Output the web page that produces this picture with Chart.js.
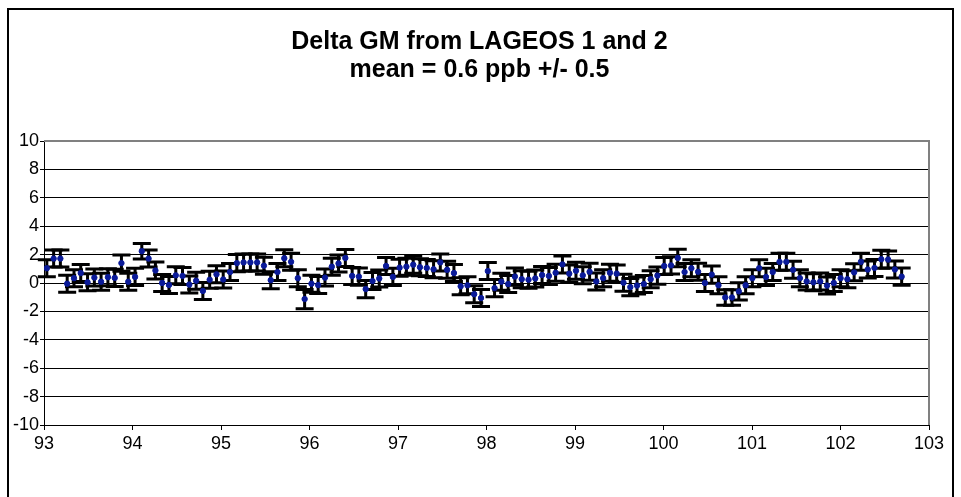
<!DOCTYPE html>
<html>
<head>
<meta charset="utf-8">
<script src="https://cdn.jsdelivr.net/npm/chart.js@4.4.1/dist/chart.umd.min.js"></script>
<style>
  html, body { margin: 0; padding: 0; background: #fff; }
  #wrap { width: 961px; height: 497px; }
</style>
</head>
<body>
<div id="wrap"><canvas id="c" width="961" height="497"></canvas></div>
<script>
// ---- data (decimal years, 28-day arcs) ----
const years = [
  93.032, 93.109, 93.185, 93.262, 93.339, 93.415, 93.492, 93.569, 93.645, 93.722,
  93.799, 93.875, 93.952, 94.029, 94.105, 94.182, 94.259, 94.335, 94.412, 94.489,
  94.565, 94.642, 94.719, 94.795, 94.872, 94.949, 95.025, 95.102, 95.179, 95.255,
  95.332, 95.408, 95.485, 95.562, 95.638, 95.715, 95.792, 95.868, 95.945, 96.022,
  96.098, 96.175, 96.252, 96.328, 96.405, 96.482, 96.558, 96.635, 96.712, 96.788,
  96.865, 96.942, 97.018, 97.095, 97.172, 97.248, 97.325, 97.402, 97.478, 97.555,
  97.632, 97.708, 97.785, 97.861, 97.938, 98.015, 98.091, 98.168, 98.245, 98.321,
  98.398, 98.475, 98.551, 98.628, 98.705, 98.781, 98.858, 98.935, 99.011, 99.088,
  99.165, 99.241, 99.318, 99.395, 99.471, 99.548, 99.625, 99.701, 99.778, 99.855,
  99.931, 100.008, 100.085, 100.161, 100.238, 100.315, 100.391, 100.468, 100.545, 100.621,
  100.698, 100.774, 100.851, 100.928, 101.004, 101.081, 101.158, 101.234, 101.311, 101.388,
  101.464, 101.541, 101.618, 101.694, 101.771, 101.848, 101.924, 102.001, 102.078, 102.154,
  102.231, 102.308, 102.384, 102.461, 102.538, 102.614, 102.691
];
const deltaGM = [
  1.04, 1.72, 1.72, -0.05, 0.34, 0.70, 0.05, 0.38, 0.09, 0.41,
  0.36, 1.40, 0.09, 0.43, 2.24, 1.72, 0.88,
  0.00, -0.14, 0.54, 0.50, -0.11, 0.16, -0.56, 0.23, 0.61, 0.25,
  0.77, 1.40, 1.45, 1.45, 1.45, 1.22, 0.20, 0.77, 1.74, 1.49, 0.34, -1.13,
  -0.05, -0.14, 0.38, 1.15, 1.38, 1.76, 0.50, 0.45, -0.43, 0.14,
  0.32, 1.20, 0.43, 1.08, 1.15, 1.29, 1.11, 1.06, 0.97, 1.45, 0.93, 0.70, -0.23,
  -0.16, -0.79, -1.06, 0.84, -0.36, 0.09, -0.07, 0.45, 0.27, 0.23,
  0.32, 0.56, 0.50, 0.72, 1.31, 0.66, 0.86, 0.54, 0.79, 0.11, 0.34, 0.72,
  0.66, 0.02, -0.29, -0.18, -0.07, 0.27, 0.52, 1.20, 1.24, 1.76,
  0.77, 1.04, 0.79, 0.00, 0.59, -0.16, -1.02, -1.02, -0.59, -0.16, 0.34, 1.04,
  0.43, 0.77, 1.49, 1.49, 0.93, 0.34, 0.11, 0.05, 0.11, -0.18,
  0.00, 0.34, 0.27, 0.75, 1.49, 0.95, 1.06, 1.67, 1.65, 0.95, 0.45
];
const errors = [
  0.60, 0.60, 0.60, 0.60, 0.60, 0.60, 0.60, 0.60, 0.60, 0.60,
  0.60, 0.58, 0.60, 0.60, 0.55, 0.60, 0.60,
  0.60, 0.60, 0.60, 0.60, 0.60, 0.60, 0.60, 0.60, 0.60, 0.60,
  0.60, 0.60, 0.60, 0.60, 0.60, 0.60, 0.60, 0.60, 0.60, 0.60, 0.60, 0.68,
  0.60, 0.60, 0.60, 0.60, 0.60, 0.60, 0.60, 0.60, 0.60, 0.60,
  0.60, 0.60, 0.60, 0.60, 0.60, 0.60, 0.60, 0.60, 0.60, 0.60, 0.60, 0.60, 0.60,
  0.60, 0.60, 0.60, 0.60, 0.60, 0.60, 0.60, 0.60, 0.60, 0.60,
  0.60, 0.60, 0.60, 0.60, 0.60, 0.60, 0.60, 0.60, 0.60, 0.60, 0.60, 0.60,
  0.60, 0.60, 0.60, 0.60, 0.60, 0.60, 0.60, 0.60, 0.60, 0.61,
  0.60, 0.60, 0.60, 0.60, 0.60, 0.60, 0.55, 0.55, 0.60, 0.60, 0.60, 0.60,
  0.60, 0.60, 0.60, 0.60, 0.60, 0.60, 0.60, 0.60, 0.60, 0.60,
  0.60, 0.60, 0.60, 0.60, 0.60, 0.60, 0.60, 0.63, 0.60, 0.60, 0.61
];
const titleLines = ['Delta GM from LAGEOS 1 and 2', 'mean = 0.6 ppb +/- 0.5'];
const xTickValues = [93, 94, 95, 96, 97, 98, 99, 100, 101, 102, 103];
const yTickValues = [-10, -8, -6, -4, -2, 0, 2, 4, 6, 8, 10];

const FONT = '"Liberation Sans", Arial, sans-serif';

const errorBarPlugin = {
  id: 'errorBars',
  beforeDatasetsDraw(chart) {
    const { ctx, scales: { x, y } } = chart;
    ctx.save();
    ctx.strokeStyle = '#000';
    ctx.lineWidth = 3;
    ctx.lineCap = 'butt';
    for (let i = 0; i < years.length; i++) {
      const px = x.getPixelForValue(years[i]);
      const top = y.getPixelForValue(deltaGM[i] + errors[i]);
      const bot = y.getPixelForValue(deltaGM[i] - errors[i]);
      ctx.beginPath();
      ctx.moveTo(px, top); ctx.lineTo(px, bot);
      ctx.moveTo(px - 9, top); ctx.lineTo(px + 9, top);
      ctx.moveTo(px - 9, bot); ctx.lineTo(px + 9, bot);
      ctx.stroke();
    }
    ctx.restore();
  }
};

const framePlugin = {
  id: 'frames',
  beforeDatasetsDraw(chart) {
    const { ctx, chartArea: a } = chart;
    ctx.save();
    ctx.strokeStyle = '#808080';
    ctx.lineWidth = 2;
    ctx.beginPath();
    ctx.moveTo(a.left, a.top); ctx.lineTo(a.right, a.top); ctx.lineTo(a.right, a.bottom);
    ctx.stroke();
    ctx.restore();
  },
  afterDraw(chart) {
    const { ctx } = chart;
    ctx.save();
    ctx.strokeStyle = '#000';
    ctx.lineWidth = 2;
    ctx.strokeRect(8, 9, 945, 560);
    ctx.restore();
  }
};

new Chart(document.getElementById('c'), {
  type: 'scatter',
  data: {
    datasets: [{
      label: 'Delta GM',
      data: years.map((yr, i) => ({ x: yr, y: deltaGM[i] })),
      backgroundColor: '#0A1A99',
      borderColor: '#0A1A99',
      pointRadius: 2.7,
      pointHoverRadius: 2.7,
      pointStyle: 'circle',
      showLine: false
    }]
  },
  options: {
    responsive: false,
    animation: false,
    devicePixelRatio: 1,
    layout: { padding: { top: 14, right: 2, bottom: 0, left: 0 } },
    plugins: {
      legend: { display: false },
      tooltip: { enabled: false },
      title: {
        display: true,
        text: titleLines,
        color: '#000',
        font: { family: FONT, size: 25, weight: 'bold', lineHeight: 1.12 },
        padding: { top: 14, bottom: 57 }
      }
    },
    scales: {
      x: {
        type: 'linear',
        min: 93, max: 103,
        afterBuildTicks(scale) { scale.ticks = xTickValues.map(v => ({ value: v })); },
        afterFit(scale) { scale.height = 72; },
        ticks: {
          color: '#000',
          font: { family: FONT, size: 18 },
          padding: 3,
          maxRotation: 0,
          autoSkip: false,
          callback: v => String(v)
        },
        grid: { drawOnChartArea: false, drawTicks: true, tickLength: 5, color: '#000', lineWidth: 1 },
        border: { display: true, color: '#000', width: 1 }
      },
      y: {
        type: 'linear',
        position: 'left',
        min: -10, max: 10,
        afterBuildTicks(scale) { scale.ticks = yTickValues.map(v => ({ value: v })); },
        afterFit(scale) { scale.width = 44; },
        ticks: {
          color: '#000',
          font: { family: FONT, size: 18 },
          padding: 1,
          autoSkip: false,
          callback: v => String(v)
        },
        grid: { color: '#000', lineWidth: 1, drawTicks: true, tickLength: 4 },
        border: { display: true, color: '#000', width: 1 }
      },
      yRight: {
        type: 'linear',
        position: 'right',
        min: -10, max: 10,
        afterFit(scale) { scale.width = 30; },
        ticks: { display: false },
        grid: { display: false, drawOnChartArea: false, drawTicks: false },
        border: { display: false }
      }
    }
  },
  plugins: [errorBarPlugin, framePlugin]
});
</script>
</body>
</html>
